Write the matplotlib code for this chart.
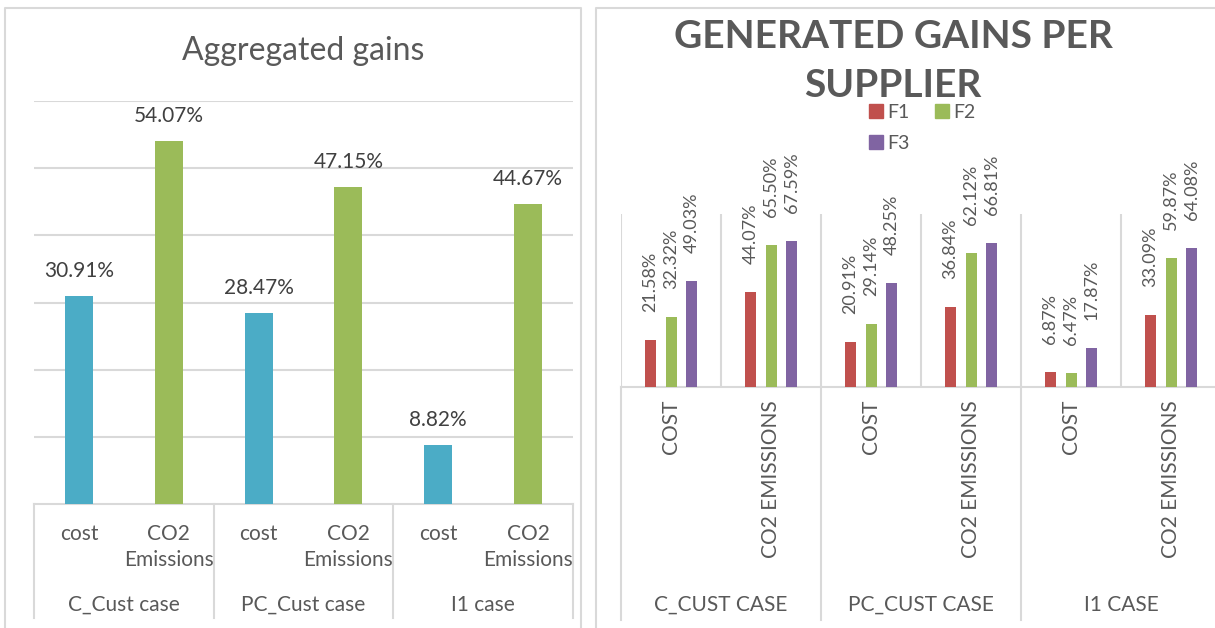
import matplotlib.pyplot as plt
from matplotlib.lines import Line2D
from matplotlib.patches import Patch

plt.rcParams['font.family'] = ['Lato', 'DejaVu Sans']

# left chart: aggregated gains
agg_groups = ["C_Cust case", "PC_Cust case", "I1 case"]
agg_cats = ["cost", "CO2\nEmissions"]
agg_values = [30.91, 54.07, 28.47, 47.15, 8.82, 44.67]

# right chart: gains per supplier
sup_groups = ["C_CUST CASE", "PC_CUST CASE", "I1 CASE"]
sup_cats = ["COST", "CO2 EMISSIONS"]
suppliers = ["F1", "F2", "F3"]
f1 = [21.58, 44.07, 20.91, 36.84, 6.87, 33.09]
f2 = [32.32, 65.50, 29.14, 62.12, 6.47, 59.87]
f3 = [49.03, 67.59, 48.25, 66.81, 17.87, 64.08]

TEXT = "#595959"
GRID = "#d9d9d9"
BLUE = "#4bacc6"
GREEN = "#9bbb59"
RED = "#c0504d"
PURPLE = "#8064a2"

W, H = 1215, 628
fig = plt.figure(figsize=(12.15, 6.28), dpi=100)


def box(x0, y0, x1, y1):
    # pixel box (top-left origin) -> figure fraction rect
    return [x0 / W, 1 - y1 / H, (x1 - x0) / W, (y1 - y0) / H]


def fline(xs, ys):
    fig.add_artist(Line2D([x / W for x in xs], [1 - y / H for y in ys],
                          transform=fig.transFigure, color=GRID, lw=1.5))


# panel frames
fline([5, 5, 581, 581], [628, 8, 8, 628])
fline([596, 596, 1215], [628, 8, 8])

# ---------------- left chart ----------------
ax1 = fig.add_axes(box(34, 101, 573, 504))
n = len(agg_values)
xs = list(range(n))
ax1.bar(xs, agg_values, width=0.31, color=[BLUE, GREEN] * 3, zorder=3)
ax1.set_xlim(-0.5, n - 0.5)
ax1.set_ylim(0, 60)
ax1.set_yticks(range(10, 61, 10))
ax1.yaxis.grid(True, color=GRID, lw=1.5)
ax1.set_xticks([])
ax1.tick_params(left=False, labelleft=False)
for s in ["top", "left", "right"]:
    ax1.spines[s].set_visible(False)
ax1.spines["bottom"].set_color(GRID)
ax1.spines["bottom"].set_linewidth(1.5)

for i, v in enumerate(agg_values):
    ax1.annotate(f"{v:.2f}%", (i, v), xytext=(0, 25), textcoords="offset pixels",
                 ha="center", va="center", fontsize=15, color="#404040")
    ax1.annotate(agg_cats[i % 2], (i, 0), xycoords=("data", "axes fraction"),
                 xytext=(0, -20), textcoords="offset pixels", ha="center", va="top",
                 fontsize=15, color=TEXT, linespacing=1.35)
for g, name in enumerate(agg_groups):
    ax1.annotate(name, (2 * g + 0.5, 0), xycoords=("data", "axes fraction"),
                 xytext=(0, -101), textcoords="offset pixels", ha="center", va="center",
                 fontsize=15, color=TEXT)
for x in [-0.5, 1.5, 3.5, 5.5]:
    ax1.plot([x, x], [0, -114 / 403], transform=ax1.get_xaxis_transform(),
             color=GRID, lw=1.5, clip_on=False)

fig.text(303 / W, 1 - 60 / H, "Aggregated gains", ha="center", va="baseline",
         fontsize=23, color=TEXT)

# ---------------- right chart ----------------
ax2 = fig.add_axes(box(621, 214, 1221, 387))
width = 0.11
offsets = [-0.205, 0, 0.205]
for vals, off, col in zip([f1, f2, f3], offsets, [RED, GREEN, PURPLE]):
    pos = [i + off for i in range(len(vals))]
    ax2.bar(pos, vals, width=width, color=col, zorder=3)
    for p, v in zip(pos, vals):
        ax2.annotate(f"{v:.2f}%", (p, v), xytext=(0, 28), textcoords="offset pixels",
                     rotation=90, ha="center", va="bottom", fontsize=13, color=TEXT)
ax2.set_xlim(-0.5, 5.5)
ax2.set_ylim(0, 80)
ax2.set_xticks([])
ax2.set_yticks([])
for s in ["top", "left", "right"]:
    ax2.spines[s].set_visible(False)
ax2.spines["bottom"].set_color(GRID)
ax2.spines["bottom"].set_linewidth(1.5)
ax2.vlines([x - 0.5 for x in range(7)], 0, 80, color=GRID, lw=1.5)

for i in range(6):
    ax2.annotate(sup_cats[i % 2], (i, 0), xycoords=("data", "axes fraction"),
                 xytext=(0, -13), textcoords="offset pixels", rotation=90,
                 ha="center", va="top", fontsize=15, color=TEXT)
for g, name in enumerate(sup_groups):
    ax2.annotate(name, (2 * g + 0.5, 0), xycoords=("data", "axes fraction"),
                 xytext=(0, -218), textcoords="offset pixels", ha="center", va="center",
                 fontsize=15, color=TEXT)
for x in [-0.5, 1.5, 3.5, 5.5]:
    ax2.plot([x, x], [0, -233 / 173], transform=ax2.get_xaxis_transform(),
             color=GRID, lw=1.5, clip_on=False)

fig.text(893 / W, 1 - 97 / H, "GENERATED GAINS PER\nSUPPLIER", ha="center",
         va="baseline", fontsize=28, fontweight="bold", color=TEXT, linespacing=1.5)

# row-wise legend: F1 F2 / F3
handles = [Patch(color=c, label=s) for c, s in zip([RED, GREEN, PURPLE], suppliers)]
handles = [handles[0], handles[2], handles[1]]
fig.legend(handles=handles, ncol=2, loc="upper left", bbox_to_anchor=(869 / W, 1 - 104 / H),
           frameon=False, fontsize=14, handlelength=0.7, handleheight=0.7,
           handletextpad=0.25, columnspacing=1.3, labelspacing=0.7,
           borderpad=0, borderaxespad=0, labelcolor=TEXT)

fig.savefig("out.png", dpi=100)
